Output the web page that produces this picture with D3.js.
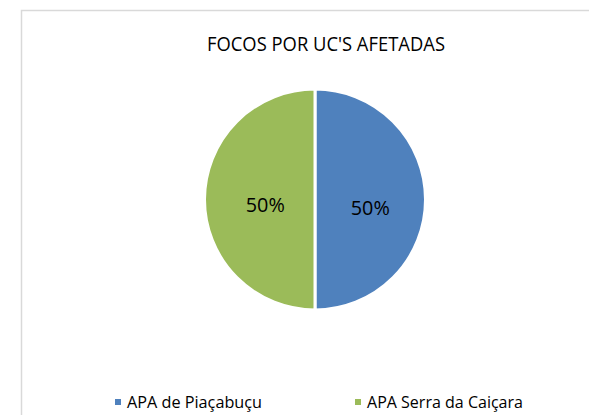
<!DOCTYPE html>
<html><head><meta charset="utf-8">
<script src="https://cdn.jsdelivr.net/npm/d3@7"></script>
<style>html,body{margin:0;padding:0;background:#fff;}svg{display:block;}</style>
</head><body>
<svg id="chart" width="589" height="415"></svg>
<script>
const title = "FOCOS POR UC'S AFETADAS";
const categories = ["APA de Piaçabuçu", "APA Serra da Caiçara"];
const values = [50, 50];
const colors = ["#4F81BD", "#9BBB59"];

const svg = d3.select("#chart");
const font = "'Open Sans', 'Noto Sans', sans-serif";

// chart border
svg.append("rect").attr("x", 21.5).attr("y", 10.5).attr("width", 600).attr("height", 420)
  .attr("fill", "#fff").attr("stroke", "#d9d9d9").attr("stroke-width", 1.5);

// title
svg.append("text").attr("x", 326).attr("y", 51)
  .attr("text-anchor", "middle").attr("font-family", font).attr("font-size", 19.5)
  .attr("fill", "#000").attr("textLength", 238).attr("lengthAdjust", "spacingAndGlyphs")
  .text(title);

const cx = 315, cy = 199.5, r = 110.5;
const total = d3.sum(values);
const pie = d3.pie().sort(null).value(d => d)(values);
const arc = d3.arc().innerRadius(0).outerRadius(r);
const g = svg.append("g").attr("transform", `translate(${cx},${cy})`);

g.selectAll("path").data(pie).join("path")
  .attr("d", arc).attr("fill", (d, i) => colors[i])
  .attr("stroke", "#fff").attr("stroke-width", 3).attr("stroke-linejoin", "round");

const fmt = d3.format(".0%");
g.selectAll("text.lbl").data(pie).join("text").attr("class", "lbl")
  .attr("transform", d => { const c = arc.centroid(d); return `translate(${c[0] * (c[0] < 0 ? 0.9 : 1)},${c[1] + (c[0] < 0 ? 12 : 15.5)})`; })
  .attr("text-anchor", "middle").attr("font-family", font).attr("font-size", 20.5)
  .attr("fill", "#000").attr("textLength", 39).attr("lengthAdjust", "spacingAndGlyphs")
  .text(d => fmt(d.value / total));

// legend
const legX = d3.scaleOrdinal().domain(categories).range([115, 355]);
const legW = [135, 156];
const lg = svg.selectAll("g.leg").data(categories).join("g").attr("class", "leg")
  .attr("transform", d => `translate(${legX(d)},0)`);
lg.append("rect").attr("x", 0).attr("y", 399).attr("width", 6).attr("height", 6)
  .attr("fill", (d, i) => colors[i]);
lg.append("text").attr("x", 12).attr("y", 407.5).attr("font-family", font).attr("font-size", 15.5)
  .attr("fill", "#000").attr("textLength", (d, i) => legW[i]).attr("lengthAdjust", "spacingAndGlyphs")
  .text(d => d);
</script>
</body></html>
